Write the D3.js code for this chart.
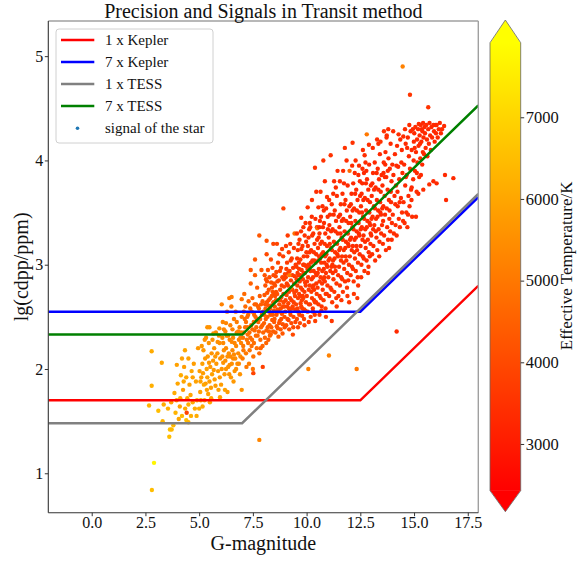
<!DOCTYPE html>
<html>
<head>
<meta charset="utf-8">
<script src="https://cdn.jsdelivr.net/npm/d3@7"></script>
<style>
  html, body { margin: 0; padding: 0; background: #fff; }
  svg { display: block; }
</style>
</head>
<body>
<svg id="chart" width="578" height="561"></svg>
<script>
// Stars: Gaia G magnitude, log10 of CDPP (ppm) and effective temperature (K)
const gMag = [
  2.80,2.90,2.79,3.26,2.67,2.79,3.30,3.64,3.61,3.80,
  3.35,3.55,3.70,3.90,4.05,4.20,4.35,4.40,4.10,3.85,
  4.00,4.25,4.40,3.96,4.15,4.30,3.72,4.45,3.10,4.42,
  4.50,4.60,4.50,4.55,4.65,4.80,4.50,4.75,4.90,4.85,
  4.34,5.38,5.94,6.25,6.51,6.98,5.97,6.98,7.80,7.52,
  7.96,4.12,4.28,4.62,4.70,4.95,4.88,3.95,4.70,4.20,
  5.00,5.05,5.10,5.15,5.20,5.25,5.30,5.35,5.40,5.45,
  5.50,5.55,5.60,5.65,5.70,5.02,5.12,5.22,5.32,5.42,
  5.52,5.62,5.72,5.80,5.85,5.90,5.95,5.78,5.88,5.98,
  5.08,5.18,5.28,5.38,5.48,5.58,5.68,5.75,5.92,5.48,
  5.06,5.16,5.26,5.36,5.46,5.56,5.66,5.76,5.86,5.96,
  6.02,6.05,6.08,6.12,6.15,6.18,6.22,6.25,6.28,6.32,
  6.35,6.38,6.42,6.45,6.48,6.52,6.55,6.58,6.62,6.65,
  6.68,6.72,6.75,6.78,6.82,6.85,6.88,6.92,6.95,6.98,
  6.10,6.30,6.50,6.40,6.05,6.70,6.20,6.60,6.90,6.45,
  6.15,6.85,6.25,6.75,6.55,6.35,6.95,6.65,6.08,6.40,
  6.12,6.22,6.32,6.42,6.52,6.62,6.72,6.82,6.92,6.58,
  7.02,7.05,7.08,7.12,7.15,7.18,7.22,7.25,7.28,7.32,
  7.35,7.38,7.42,7.45,7.48,7.52,7.55,7.58,7.62,7.65,
  7.68,7.72,7.75,7.78,7.82,7.85,7.88,7.92,7.95,7.98,
  7.10,7.40,7.60,7.90,7.30,7.70,7.20,7.50,7.80,7.95,
  7.04,7.14,7.24,7.34,7.44,7.54,7.64,7.74,7.84,7.94,
  7.08,7.18,7.28,7.38,7.48,7.58,7.68,7.78,7.88,7.98,
  7.80,8.14,7.40,7.60,7.06,7.46,7.66,7.86,7.26,7.56,
  8.02,8.04,8.06,8.09,8.11,8.13,8.15,8.18,8.20,8.22,
  8.24,8.26,8.28,8.31,8.33,8.35,8.37,8.40,8.42,8.44,
  8.46,8.48,8.03,8.08,8.12,8.17,8.21,8.27,8.32,8.36,
  8.41,8.45,8.49,8.07,8.19,8.29,8.39,8.47,8.14,8.34,
  8.45,8.10,8.23,8.30,8.38,8.43,8.16,8.25,8.05,8.48,
  8.51,8.53,8.55,8.57,8.59,8.61,8.63,8.65,8.67,8.69,
  8.71,8.73,8.75,8.77,8.79,8.81,8.83,8.85,8.87,8.89,
  8.91,8.93,8.95,8.97,8.99,8.52,8.56,8.60,8.64,8.68,
  8.72,8.76,8.80,8.84,8.88,8.92,8.96,8.58,8.66,8.74,
  8.86,8.92,8.62,8.98,8.54,8.70,8.78,8.82,8.90,8.94,
  9.01,9.03,9.05,9.07,9.09,9.11,9.13,9.15,9.17,9.19,
  9.21,9.23,9.25,9.27,9.29,9.31,9.33,9.35,9.37,9.39,
  9.41,9.43,9.45,9.47,9.49,9.02,9.06,9.10,9.14,9.18,
  9.22,9.26,9.30,9.34,9.38,9.42,9.46,9.08,9.16,9.24,
  9.28,9.20,9.36,9.44,9.12,9.48,9.04,9.32,9.40,9.18,
  9.51,9.53,9.55,9.57,9.59,9.61,9.63,9.65,9.67,9.69,
  9.71,9.73,9.75,9.77,9.79,9.81,9.83,9.85,9.87,9.89,
  9.91,9.93,9.95,9.97,9.99,9.52,9.56,9.60,9.64,9.68,
  9.72,9.76,9.80,9.84,9.88,9.92,9.96,9.58,9.66,9.74,
  9.82,9.90,9.54,9.62,9.70,9.78,9.86,9.94,9.98,9.60,
  9.75,9.95,9.55,9.85,9.65,9.80,9.90,9.70,9.58,9.88,
  10.01,10.03,10.05,10.07,10.09,10.11,10.13,10.15,10.17,10.19,
  10.21,10.23,10.25,10.27,10.29,10.31,10.33,10.35,10.37,10.39,
  10.41,10.43,10.45,10.47,10.49,10.02,10.06,10.10,10.14,10.18,
  10.22,10.26,10.30,10.34,10.38,10.42,10.46,10.08,10.16,10.24,
  10.32,10.40,10.04,10.12,10.20,10.28,10.36,10.44,10.48,10.10,
  10.39,10.25,10.45,10.05,10.50,10.08,10.30,10.15,10.35,10.45,
  10.51,10.53,10.55,10.57,10.59,10.61,10.63,10.65,10.67,10.69,
  10.71,10.73,10.75,10.77,10.79,10.81,10.83,10.85,10.87,10.89,
  10.91,10.93,10.95,10.97,10.99,10.52,10.56,10.60,10.64,10.68,
  10.72,10.76,10.80,10.84,10.88,10.92,10.96,10.58,10.66,10.74,
  10.82,10.90,10.54,10.62,10.70,10.78,10.86,10.94,10.98,10.60,
  10.78,10.65,10.85,10.95,10.55,10.70,11.04,10.90,10.60,10.80,
  11.01,11.03,11.05,11.07,11.09,11.11,11.13,11.15,11.17,11.19,
  11.21,11.23,11.25,11.27,11.29,11.31,11.33,11.35,11.37,11.39,
  11.41,11.43,11.45,11.47,11.49,11.02,11.06,11.10,11.14,11.18,
  11.22,11.26,11.30,11.34,11.38,11.42,11.46,11.08,11.16,11.24,
  11.32,11.40,11.17,11.28,11.44,11.12,11.36,11.48,11.20,11.05,
  11.51,11.53,11.55,11.57,11.59,11.61,11.63,11.65,11.67,11.69,
  11.71,11.73,11.75,11.77,11.79,11.81,11.83,11.85,11.87,11.89,
  11.91,11.93,11.95,11.97,11.99,11.52,11.56,11.60,11.64,11.68,
  11.72,11.76,11.80,11.84,11.88,11.92,11.96,11.58,11.66,11.74,
  11.82,11.90,11.62,11.98,11.70,11.86,11.78,12.00,11.55,11.94,
  12.01,12.03,12.05,12.07,12.09,12.11,12.13,12.15,12.17,12.19,
  12.21,12.23,12.25,12.27,12.29,12.31,12.33,12.35,12.37,12.39,
  12.41,12.43,12.45,12.47,12.49,12.02,12.06,12.10,12.14,12.18,
  12.22,12.26,12.30,12.34,12.38,12.42,12.46,12.08,12.16,12.24,
  12.32,12.40,12.14,12.28,12.44,12.20,12.33,12.36,12.12,12.48,
  12.51,12.53,12.55,12.57,12.59,12.61,12.63,12.65,12.67,12.69,
  12.71,12.73,12.75,12.77,12.79,12.81,12.83,12.85,12.87,12.89,
  12.91,12.93,12.95,12.97,12.99,12.52,12.56,12.60,12.64,12.68,
  12.72,12.76,12.80,12.84,12.88,12.92,12.96,12.58,12.66,12.74,
  12.80,12.62,12.90,12.54,12.86,12.70,12.78,12.94,12.60,12.98,
  13.01,13.03,13.05,13.07,13.09,13.11,13.13,13.15,13.17,13.19,
  13.21,13.23,13.25,13.27,13.29,13.31,13.33,13.35,13.37,13.39,
  13.41,13.43,13.45,13.47,13.49,13.02,13.06,13.10,13.14,13.18,
  13.22,13.26,13.30,13.34,13.38,13.42,13.46,13.08,13.28,13.44,
  13.51,13.53,13.55,13.57,13.59,13.61,13.63,13.65,13.67,13.69,
  13.71,13.73,13.75,13.77,13.79,13.81,13.83,13.85,13.87,13.89,
  13.91,13.93,13.95,13.97,13.99,13.52,13.58,13.64,13.72,13.78,
  13.84,13.92,13.96,13.60,13.80,13.34,13.73,13.66,13.86,13.56,
  14.01,14.04,14.06,14.09,14.11,14.14,14.16,14.19,14.21,14.24,
  14.26,14.29,14.31,14.34,14.36,14.39,14.41,14.44,14.46,14.49,
  14.03,14.13,14.23,14.33,14.43,14.18,14.28,14.19,14.47,14.81,
  14.51,14.54,14.56,14.59,14.61,14.64,14.66,14.69,14.71,14.74,
  14.76,14.79,14.81,14.84,14.86,14.89,14.91,14.94,14.96,14.99,
  14.58,14.68,14.78,14.88,14.98,14.50,14.89,15.66,14.72,14.62,
  15.01,15.04,15.06,15.09,15.09,15.14,15.16,15.19,15.21,15.20,
  15.26,15.29,15.31,15.34,15.43,15.39,15.41,15.44,15.24,15.49,
  15.12,15.22,15.32,15.42,15.38,15.03,15.28,15.47,15.13,15.36,
  15.51,15.54,15.57,15.60,15.71,15.66,15.69,15.72,15.75,15.90,
  15.81,15.84,16.05,15.90,15.93,16.44,15.99,16.02,16.05,16.83,
  16.15,16.20,16.30,16.40,16.49,15.62,15.78,15.96,16.10,16.25
];

const lgCdpp = [
  0.84,1.10,2.17,2.06,1.65,1.84,1.50,1.42,1.35,1.46,
  1.66,1.62,1.68,1.58,1.52,1.55,1.62,1.51,1.64,1.77,
  1.86,1.80,1.92,2.04,1.94,2.02,1.42,1.72,1.60,1.58,
  1.66,1.75,1.49,1.85,1.98,1.62,2.10,2.05,1.70,1.88,
  2.18,2.40,2.39,2.44,2.69,2.67,1.73,1.80,1.32,1.96,
  2.02,1.72,1.88,1.55,1.92,2.20,1.55,1.70,1.68,2.10,
  1.62,1.78,1.92,2.05,2.18,1.70,1.86,2.00,2.12,2.25,
  1.68,1.82,1.95,2.08,2.20,1.98,2.22,1.85,2.30,1.76,
  2.02,2.28,1.90,2.05,2.15,1.80,2.25,2.35,1.98,2.10,
  1.70,1.96,2.10,1.92,1.88,2.15,1.99,2.12,2.32,2.40,
  1.88,1.64,2.28,1.80,2.06,1.72,2.34,1.84,2.26,1.92,
  1.85,2.00,2.12,2.25,2.38,1.95,2.08,2.20,2.32,1.78,
  2.02,2.15,2.28,2.42,1.92,2.05,2.18,2.30,2.48,1.98,
  2.10,2.22,2.35,2.05,2.15,2.28,2.40,2.12,2.25,2.50,
  2.45,2.55,2.60,2.68,2.62,2.55,1.80,1.88,1.95,2.12,
  2.18,2.05,2.00,2.45,2.38,2.32,2.35,2.25,2.30,1.95,
  2.06,2.36,2.12,2.04,2.26,2.14,2.00,2.36,2.30,2.10,
  2.10,2.22,2.35,2.48,2.60,2.15,2.28,2.40,2.52,2.05,
  2.18,2.30,2.42,2.55,2.68,2.12,2.25,2.37,2.50,2.62,
  2.20,2.32,2.45,2.58,2.70,2.28,2.40,2.52,2.65,2.35,
  2.72,2.82,2.90,2.95,2.65,2.78,2.02,2.00,2.15,2.22,
  2.30,2.40,2.50,2.35,2.22,2.45,2.32,2.60,2.48,2.42,
  2.55,2.45,2.25,2.58,2.38,2.62,2.48,2.36,2.62,2.55,
  3.28,3.23,2.95,3.05,2.18,2.28,2.40,2.20,2.33,2.52,
  2.44,2.71,2.30,2.58,2.86,2.37,2.64,2.50,2.95,2.28,
  2.76,2.55,2.42,2.68,2.33,2.83,2.61,2.47,2.74,2.36,
  2.90,2.56,2.52,2.80,2.25,2.73,2.61,2.88,2.52,2.40,
  2.97,2.64,2.45,2.62,2.40,2.32,2.78,2.72,3.10,3.05,
  3.20,2.48,2.66,2.58,2.70,2.52,2.84,2.36,2.90,2.82,
  2.48,2.80,2.35,2.66,2.93,2.41,2.72,2.57,3.02,2.31,
  2.85,2.62,2.46,2.76,2.38,2.97,2.69,2.53,2.88,2.43,
  3.08,2.64,2.79,2.50,2.91,2.60,2.89,2.52,2.84,2.66,
  2.44,2.94,2.58,2.80,2.34,2.72,2.60,2.74,2.39,3.10,
  3.15,3.54,3.20,2.40,2.70,2.55,2.66,2.48,2.60,2.86,
  2.55,2.88,2.42,2.71,3.02,2.48,2.80,2.63,3.12,2.38,
  2.94,2.68,2.52,2.85,2.44,3.06,2.76,2.60,2.97,2.50,
  3.16,2.73,2.89,2.57,3.00,2.66,2.96,2.60,2.92,2.74,
  2.55,3.04,2.66,2.90,2.40,2.82,2.70,2.82,2.47,3.20,
  2.78,2.90,2.33,3.30,3.28,2.45,3.18,2.58,2.64,2.58,
  2.62,2.98,2.48,2.80,3.14,2.55,2.90,2.72,3.24,2.44,
  3.05,2.78,2.60,2.95,2.51,3.18,2.86,2.68,3.08,2.57,
  3.28,2.83,2.99,2.64,3.12,2.75,3.06,2.68,3.02,2.84,
  2.63,3.15,2.76,3.00,2.48,2.92,2.80,2.92,2.52,3.32,
  2.70,2.42,2.86,3.20,2.90,2.66,2.92,2.56,3.22,2.40,
  3.45,3.40,3.30,3.36,2.96,2.58,2.74,2.70,2.58,3.00,
  2.70,3.08,2.55,2.88,3.26,2.62,2.98,2.80,3.36,2.50,
  3.14,2.86,2.68,3.04,2.58,3.30,2.94,2.76,3.20,2.64,
  3.44,2.92,3.10,2.72,3.24,2.84,3.18,2.76,3.12,2.94,
  2.74,3.28,2.88,3.12,2.52,3.02,2.90,3.00,2.62,3.46,
  2.80,2.46,2.96,3.34,3.02,2.78,3.04,2.64,3.36,2.45,
  3.93,3.62,3.70,3.55,3.35,2.00,2.55,3.40,2.66,2.82,
  2.78,3.16,2.62,2.96,3.36,2.70,3.06,2.88,3.46,2.56,
  3.22,2.94,2.76,3.12,2.66,3.40,3.02,2.84,3.30,2.72,
  3.54,3.00,3.18,2.80,3.34,2.92,3.26,2.84,3.20,3.02,
  2.82,3.36,2.96,3.20,2.58,3.10,2.98,3.08,2.68,3.56,
  2.88,2.50,3.04,3.42,3.10,2.86,3.08,2.72,3.46,2.52,
  4.00,3.70,3.80,3.65,3.55,2.60,2.13,2.92,3.30,3.52,
  2.88,3.26,2.70,3.06,3.48,2.78,3.16,2.98,3.58,2.64,
  3.34,3.04,2.86,3.22,2.74,3.52,3.12,2.94,3.42,2.82,
  3.66,3.10,3.30,2.90,3.46,3.04,3.38,2.94,3.32,3.14,
  2.92,3.48,3.06,3.32,2.68,3.20,3.08,3.20,2.76,3.68,
  2.98,2.60,2.46,3.80,3.90,4.05,3.74,2.70,3.00,3.62,
  2.98,3.36,2.80,3.16,3.58,2.88,3.26,3.08,3.68,2.74,
  3.44,3.14,2.96,3.32,2.84,3.62,3.22,3.04,3.52,2.92,
  3.76,3.20,3.40,3.00,3.56,3.14,3.48,3.04,3.42,3.24,
  3.02,3.58,3.16,3.42,2.78,3.30,3.18,3.30,2.86,3.78,
  3.08,2.70,2.66,2.64,3.90,4.00,4.12,3.90,3.80,2.85,
  3.08,3.46,2.90,3.26,3.68,2.98,3.36,3.18,3.78,2.84,
  3.54,3.24,3.06,3.42,2.94,3.72,3.32,3.14,3.62,3.02,
  3.86,3.30,3.50,3.10,3.66,3.24,3.58,3.14,3.52,3.34,
  3.12,3.68,3.26,3.52,2.88,3.40,3.28,3.40,2.96,3.88,
  3.18,2.80,4.17,4.00,3.95,2.72,2.00,2.68,3.95,3.80,
  3.18,3.56,3.00,3.36,3.78,3.08,3.46,3.28,3.88,2.94,
  3.64,3.34,3.16,3.52,3.04,3.82,3.42,3.24,3.72,3.12,
  3.96,3.40,3.60,3.20,3.76,3.34,3.68,3.24,3.62,3.44,
  3.22,3.78,3.36,3.62,2.98,3.50,3.38,3.50,3.06,3.98,
  4.25,4.10,4.15,2.88,2.92,4.05,3.90,3.08,3.92,3.30,
  3.28,3.66,3.10,3.46,3.88,3.18,3.56,3.38,3.98,3.04,
  3.74,3.44,3.26,3.62,3.14,3.92,3.52,3.34,3.82,3.22,
  4.06,3.50,3.70,3.30,3.86,3.44,3.78,3.34,3.72,3.54,
  3.32,3.88,3.46,3.72,3.08,3.60,3.48,4.12,4.20,4.18,
  3.38,3.76,3.20,3.56,3.98,3.28,3.66,3.48,4.08,3.14,
  3.84,3.54,3.36,3.72,3.24,4.02,3.62,3.44,3.92,3.32,
  4.16,3.60,3.80,3.40,3.96,3.54,3.88,3.84,4.22,3.90,
  3.16,3.70,3.24,4.28,4.30,4.16,4.24,3.96,3.52,3.42,
  3.48,3.86,3.30,3.66,4.06,3.38,3.76,3.28,4.14,3.56,
  3.94,3.44,3.82,3.36,4.20,3.64,3.98,3.50,3.88,3.42,
  4.28,3.58,3.70,3.60,4.10,3.95,4.25,2.36,4.90,4.63,
  3.60,3.96,3.40,3.76,4.16,3.50,3.86,3.36,4.22,3.66,
  4.04,3.56,3.92,4.28,3.72,4.10,3.46,4.30,3.82,4.18,
  4.30,4.12,4.34,3.62,4.00,4.23,3.74,4.51,3.48,3.84,
  4.26,3.90,4.32,4.08,3.46,4.20,3.98,4.30,4.14,3.68,
  4.24,4.02,4.34,4.18,3.72,4.28,4.08,4.22,3.84,4.32,
  3.70,4.35,3.86,4.36,3.96,4.12,4.16,4.06,3.88,4.30,
  4.26,4.12,4.34,4.20,3.77,4.30,4.16,4.36,4.24,3.80,
  4.32,4.22,3.78,4.34,4.28,3.86,4.34,4.26,4.34,3.83,
  4.30,4.36,4.30,4.33,3.62,4.04,4.10,4.18,4.22,4.26
];

const teffK = [
  6500,7700,6100,6000,6300,6200,6300,6600,6500,6400,
  6100,6200,5900,6300,6000,6400,6100,6500,5900,6100,
  6000,5800,6000,5900,6100,5800,6400,6000,6500,3900,
  6200,6000,6300,5900,6000,6100,5900,5800,6200,5900,
  6000,5600,5500,5300,5100,4900,5900,5600,5300,3900,
  3800,6100,6000,6200,5900,5700,6100,6200,6100,5900,
  6100,5900,5800,5900,5700,6000,5800,5900,5700,5600,
  6000,5800,5900,5700,5600,5800,5700,6000,5500,5900,
  5700,5600,5800,5700,5600,5900,5500,5400,5700,5600,
  6000,5800,5700,5900,5800,5600,5700,5700,5500,5600,
  5900,6100,5600,5900,5700,6000,5500,5800,5500,5700,
  5800,5600,5500,5400,5300,5700,5500,5400,5300,5800,
  5600,5500,5300,5200,5700,5500,5400,5300,5100,5600,
  5500,5300,5200,5500,5400,5200,5100,5400,5200,5000,
  5300,5100,5000,5000,5200,5000,5900,5700,5600,5400,
  5500,5400,5600,5100,5200,5300,5100,5300,5400,5600,
  5600,5300,5500,5500,5300,5400,5500,5200,5200,5400,
  5100,5000,4900,4800,4700,5000,4900,4800,4700,5100,
  4900,4800,4700,4600,4500,4900,4800,4700,4600,4500,
  4800,4700,4600,4500,4400,4700,4600,4500,4400,4600,
  4700,4500,4400,4300,4600,4400,5000,4900,4700,4600,
  4900,4800,4700,4800,4800,4700,4700,4500,4600,4500,
  4700,4800,4900,4600,4700,4500,4600,4600,4400,4400,
  4300,4200,4300,4300,5000,4800,4700,4600,4800,4600,
  4500,4300,4600,4400,4200,4500,4300,4400,4100,4500,
  4200,4300,4400,4200,4500,4100,4300,4400,4200,4400,
  4000,4300,4400,4200,4600,4200,4300,4100,4300,4400,
  4000,4200,4300,4300,4400,4500,4100,4100,4000,4000,
  3900,4400,4200,4300,4200,4300,4100,4500,4200,4100,
  4300,4100,4400,4200,4000,4300,4100,4200,3900,4400,
  4000,4100,4200,4000,4300,3900,4000,4100,3900,4200,
  3800,4000,3900,4100,3800,4200,4000,4200,4000,4100,
  4200,3900,4100,3900,4300,3900,4000,4100,4300,3800,
  3800,3800,3900,4100,4100,4100,4000,4100,4000,3900,
  4000,3800,4100,3900,3700,4000,3800,3900,3700,4100,
  3800,3900,4000,3800,4000,3700,3800,3900,3700,4000,
  3600,3800,3700,3900,3700,3900,3700,3900,3700,3800,
  3900,3700,3800,3700,4000,3700,3800,3800,4000,3600,
  5000,5100,4000,4800,3700,3900,3700,3900,3800,3900,
  3900,3700,4000,3800,3600,3900,3700,3800,3600,4000,
  3700,3800,3800,3700,3900,3600,3700,3800,3600,3900,
  3500,3700,3600,3800,3600,3800,3600,3800,3600,3700,
  3800,3600,3700,3600,3900,3600,3700,3700,3900,3500,
  3700,3900,3700,3600,3700,3800,3600,3800,3500,3900,
  3500,3500,3600,3500,3700,3800,3700,3700,3800,3600,
  3700,3600,3800,3600,3500,3700,3600,3700,3500,3800,
  3500,3600,3700,3600,3700,3500,3600,3600,3500,3700,
  3400,3600,3500,3700,3500,3600,3500,3700,3500,3600,
  3700,3500,3600,3500,3800,3500,3600,3600,3700,3400,
  3600,3800,3600,3500,3500,3600,3500,3700,3400,3800,
  3500,3500,3400,3500,4900,5200,3600,3500,3700,3600,
  3600,3500,3700,3600,3400,3600,3500,3600,3400,3700,
  3500,3600,3600,3500,3700,3400,3500,3600,3400,3600,
  3400,3500,3500,3600,3400,3600,3500,3600,3500,3500,
  3600,3400,3500,3500,3700,3500,3500,3500,3700,3400,
  3600,3700,3500,3400,3500,3600,3500,3600,3400,3700,
  3500,3500,3400,3500,3500,3600,5200,3500,3500,3400,
  3600,3500,3600,3500,3400,3600,3500,3500,3400,3600,
  3400,3500,3600,3500,3600,3400,3500,3500,3400,3600,
  3400,3500,3400,3500,3400,3500,3400,3500,3400,3500,
  3500,3400,3500,3400,3600,3500,3500,3500,3600,3400,
  3500,3600,3600,3400,3400,3500,3400,3600,3500,3400,
  3500,3400,3600,3500,3400,3500,3400,3500,3400,3600,
  3400,3500,3500,3400,3500,3400,3400,3500,3400,3500,
  3300,3400,3400,3500,3400,3500,3400,3500,3400,3400,
  3500,3400,3400,3400,3600,3400,3400,3400,3600,3300,
  3500,3600,3600,3600,3400,3400,3500,4600,3400,3500,
  3500,3400,3500,3400,3300,3500,3400,3400,3300,3500,
  3400,3400,3500,3400,3500,3300,3400,3400,3300,3500,
  3300,3400,3400,3400,3300,3400,3400,3400,3400,3400,
  3500,3300,3400,3400,3500,3400,3400,3400,3500,3300,
  3400,3500,3500,3400,3400,3600,5000,3600,3400,3300,
  3400,3400,3500,3400,3300,3400,3400,3400,3300,3500,
  3300,3400,3400,3400,3400,3300,3400,3400,3300,3400,
  3300,3400,3300,3400,3300,3400,3300,3400,3300,3400,
  3400,3300,3400,3300,3500,3400,3400,3400,3400,3300,
  5000,3400,3400,3500,3500,3400,3300,3400,3300,3400,
  3400,3300,3400,3400,3300,3400,3300,3400,3300,3400,
  3300,3400,3400,3300,3400,3300,3300,3400,3300,3400,
  3300,3300,3300,3400,3300,3400,3300,3400,3300,3300,
  3400,3300,3300,3300,3400,3300,3300,3400,3400,3500,
  3400,3300,3400,3300,3300,3400,3300,3300,3300,3400,
  3300,3300,3400,3300,3400,3300,3300,3300,3300,3400,
  3300,3300,3300,3400,3300,3300,3300,3300,3400,3300,
  3400,3300,3400,3500,3400,3400,3400,3300,3300,3400,
  3400,3300,3400,3300,3300,3400,3300,3400,3300,3300,
  3300,3400,3300,3400,3300,3300,3300,3400,3300,3400,
  3400,3300,3300,3300,3300,3300,3400,3300,5200,3600,
  3400,3300,3400,3300,3300,3400,3300,3400,3300,3300,
  3300,3400,3300,3300,3300,3300,3400,3300,3300,3300,
  3400,3300,3400,3400,3300,3400,3300,3500,3400,3300,
  3300,3300,3400,3300,3400,3300,3300,3300,3300,3300,
  3300,3300,3400,3300,3400,3300,3300,3300,3400,3300,
  3400,3400,3300,3300,3300,3300,3300,3300,3300,3300,
  3300,3300,3400,3300,3400,3300,3300,3300,3300,3300,
  3300,3300,3300,3400,3300,3300,3300,3300,3300,3300,
  3300,3300,3300,3300,3300,3300,3300,3300,3300,3300
];

// Noise floors of the two missions (1x and 7x), piecewise in magnitude
const keplerMag = [-2.02, 12.5, 17.99];
const kepler1x  = [1.70, 1.70, 2.798];
const kepler7x  = [2.55, 2.55, 3.648];
const tessMag   = [-2.02, 7.0, 17.99];
const tess1x    = [1.48, 1.48, 3.678];
const tess7x    = [2.33, 2.33, 4.528];

const xTicks = [0, 2.5, 5, 7.5, 10, 12.5, 15, 17.5];
const yTicks = [1, 2, 3, 4, 5];
const tempTicks = [3000, 4000, 5000, 6000, 7000];
const tempRange = [2428, 7913];

const floorSeries = [
  { label: "1 x Kepler", color: "#ff0000", mag: keplerMag, val: kepler1x },
  { label: "7 x Kepler", color: "#0000ff", mag: keplerMag, val: kepler7x },
  { label: "1 x TESS",   color: "#808080", mag: tessMag,   val: tess1x },
  { label: "7 x TESS",   color: "#008000", mag: tessMag,   val: tess7x }
];
const scatterLabel = "signal of the star";

const FONT = '"Liberation Serif", "Times New Roman", Times, serif';
const plot = { left: 48.3, right: 478.3, top: 21, bottom: 512.7 };

const svg = d3.select("#chart").attr("font-family", FONT);
svg.append("rect").attr("width", 578).attr("height", 561).attr("fill", "#fff");

const x = d3.scaleLinear().domain([-2.02, 17.99]).range([plot.left, plot.right]);
const y = d3.scaleLinear().domain([0.622, 5.337]).range([plot.bottom, plot.top]);
const color = d3.scaleLinear().domain(tempRange).range(["#ff0000", "#ffff00"])
  .interpolate(d3.interpolateRgb).clamp(true);

const defs = svg.append("defs");
defs.append("clipPath").attr("id", "plotClip").append("rect")
  .attr("x", plot.left).attr("y", plot.top)
  .attr("width", plot.right - plot.left).attr("height", plot.bottom - plot.top);

// scatter of stars
const idx = d3.range(Math.min(gMag.length, lgCdpp.length, teffK.length));
svg.append("g").attr("clip-path", "url(#plotClip)")
  .selectAll("circle").data(idx).join("circle")
  .attr("cx", i => x(gMag[i]))
  .attr("cy", i => y(lgCdpp[i]))
  .attr("r", 2.2)
  .attr("fill", i => color(teffK[i]));

// noise-floor lines
const line = d3.line().x(d => x(d[0])).y(d => y(d[1]));
svg.append("g").attr("clip-path", "url(#plotClip)")
  .selectAll("path").data(floorSeries).join("path")
  .attr("d", s => line(s.mag.map((m, k) => [m, s.val[k]])))
  .attr("fill", "none")
  .attr("stroke", s => s.color)
  .attr("stroke-width", 2.5);

// frame
svg.append("line").attr("x1", plot.left).attr("x2", plot.right).attr("y1", plot.top).attr("y2", plot.top)
  .attr("stroke", "#a0a0a0").attr("stroke-width", 1.4);
svg.append("line").attr("x1", plot.right).attr("x2", plot.right).attr("y1", plot.top).attr("y2", plot.bottom)
  .attr("stroke", "#a0a0a0").attr("stroke-width", 1.4);
svg.append("line").attr("x1", plot.left).attr("x2", plot.left).attr("y1", plot.top).attr("y2", plot.bottom)
  .attr("stroke", "#333").attr("stroke-width", 1.1);
svg.append("line").attr("x1", plot.left).attr("x2", plot.right).attr("y1", plot.bottom).attr("y2", plot.bottom)
  .attr("stroke", "#333").attr("stroke-width", 1.1);

// axes
function styleAxis(g, size) {
  g.attr("font-family", FONT).attr("font-size", size);
  g.select(".domain").remove();
  g.selectAll(".tick line").attr("stroke", "#333");
  g.selectAll(".tick text").attr("fill", "#111");
}
svg.append("g").attr("transform", `translate(0,${plot.bottom})`)
  .call(d3.axisBottom(x).tickValues(xTicks).tickFormat(d3.format(".1f")).tickSize(3.5).tickPadding(0.5))
  .call(g => styleAxis(g, 16));
svg.append("g").attr("transform", `translate(${plot.left},0)`)
  .call(d3.axisLeft(y).tickValues(yTicks).tickFormat(d3.format("d")).tickSize(3.5).tickPadding(1.5))
  .call(g => styleAxis(g, 16));

// titles
svg.append("text").attr("x", (plot.left + plot.right) / 2).attr("y", 18)
  .attr("text-anchor", "middle").attr("font-size", 20).attr("fill", "#111")
  .text("Precision and Signals in Transit method");
svg.append("text").attr("x", (plot.left + plot.right) / 2).attr("y", 550)
  .attr("text-anchor", "middle").attr("font-size", 20).attr("fill", "#111")
  .text("G-magnitude");
svg.append("text").attr("transform", `translate(27.5,${(plot.top + plot.bottom) / 2}) rotate(-90)`)
  .attr("text-anchor", "middle").attr("font-size", 20).attr("fill", "#111")
  .text("lg(cdpp/ppm)");

// legend
const lg = svg.append("g");
lg.append("rect").attr("x", 56).attr("y", 29).attr("width", 157).attr("height", 114)
  .attr("rx", 3).attr("fill", "#fff").attr("fill-opacity", 0.8)
  .attr("stroke", "#d0d0d0").attr("stroke-width", 1);
floorSeries.forEach((s, k) => {
  const yy = 40 + k * 22;
  lg.append("line").attr("x1", 61).attr("x2", 94.3).attr("y1", yy).attr("y2", yy)
    .attr("stroke", s.color).attr("stroke-width", 2.5);
  lg.append("text").attr("x", 105).attr("y", yy + 5).attr("font-size", 15).attr("fill", "#111").text(s.label);
});
lg.append("circle").attr("cx", 77.5).attr("cy", 128.3).attr("r", 1.8).attr("fill", "#1f77b4");
lg.append("text").attr("x", 105).attr("y", 133.3).attr("font-size", 15).attr("fill", "#111").text(scatterLabel);

// colorbar with extend arrows
const cb = { x0: 490, x1: 520.7, top: 42.7, bottom: 490.7, tipTop: 20, tipBottom: 511.7 };
const cbScale = d3.scaleLinear().domain(tempRange).range([cb.bottom, cb.top]);
const grad = defs.append("linearGradient").attr("id", "cbGrad")
  .attr("x1", 0).attr("y1", 1).attr("x2", 0).attr("y2", 0);
d3.range(0, 1.0001, 0.1).forEach(t => {
  grad.append("stop").attr("offset", t)
    .attr("stop-color", color(tempRange[0] + t * (tempRange[1] - tempRange[0])));
});
const cx = (cb.x0 + cb.x1) / 2;
svg.append("rect").attr("x", cb.x0).attr("y", cb.top).attr("width", cb.x1 - cb.x0)
  .attr("height", cb.bottom - cb.top).attr("fill", "url(#cbGrad)");
svg.append("path").attr("d", `M${cb.x0},${cb.top + 0.5}L${cx},${cb.tipTop}L${cb.x1},${cb.top + 0.5}Z`)
  .attr("fill", color(tempRange[1]));
svg.append("path").attr("d", `M${cb.x0},${cb.bottom - 0.5}L${cx},${cb.tipBottom}L${cb.x1},${cb.bottom - 0.5}Z`)
  .attr("fill", color(tempRange[0]));
svg.append("path")
  .attr("d", `M${cb.x0},${cb.top}L${cx},${cb.tipTop}L${cb.x1},${cb.top}L${cb.x1},${cb.bottom}L${cx},${cb.tipBottom}L${cb.x0},${cb.bottom}Z`)
  .attr("fill", "none").attr("stroke", "#666").attr("stroke-width", 0.8);
svg.append("g").attr("transform", `translate(${cb.x1},0)`)
  .call(d3.axisRight(cbScale).tickValues(tempTicks).tickFormat(d3.format("d")).tickSize(3.5).tickPadding(1.5))
  .call(g => styleAxis(g, 16.5));
svg.append("text").attr("transform", `translate(572,${(cb.tipTop + cb.tipBottom) / 2}) rotate(-90)`)
  .attr("text-anchor", "middle").attr("font-size", 17).attr("fill", "#111")
  .text("Effective Temperature/K");
</script>
</body>
</html>
